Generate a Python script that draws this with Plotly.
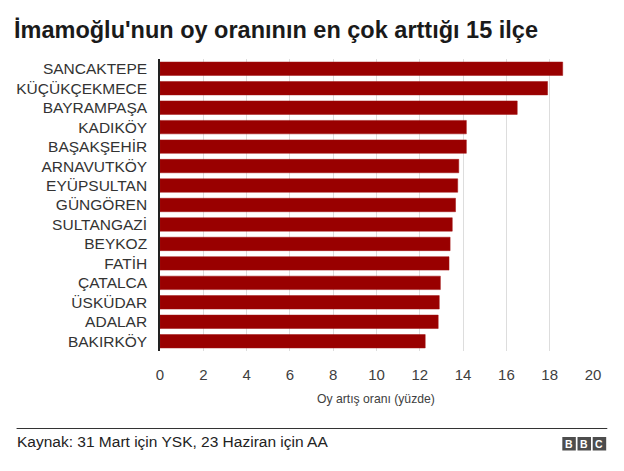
import plotly.graph_objects as go

districts = ["SANCAKTEPE", "KÜÇÜKÇEKMECE", "BAYRAMPAŞA", "KADIKÖY", "BAŞAKŞEHİR",
             "ARNAVUTKÖY", "EYÜPSULTAN", "GÜNGÖREN", "SULTANGAZİ", "BEYKOZ",
             "FATİH", "ÇATALCA", "ÜSKÜDAR", "ADALAR", "BAKIRKÖY"]
increase = [18.6, 17.9, 16.5, 14.15, 14.15, 13.8, 13.75, 13.65, 13.5, 13.4,
            13.35, 12.95, 12.9, 12.85, 12.25]
tick_vals = [0, 2, 4, 6, 8, 10, 12, 14, 16, 18, 20]

W, H = 624, 471
L, R, T, B = 159.5, 592.7, 59, 351
pw, ph = R - L, B - T

def px(x):
    return (x - L) / pw

def py(y):
    return (B - y) / ph

fig = go.Figure(go.Bar(
    x=increase, y=districts, orientation="h",
    marker=dict(color="#990000", line=dict(color="#a01010", width=0.5)),
    hoverinfo="x+y",
))

fig.update_layout(
    width=W, height=H,
    margin=dict(l=L, r=W - R, t=T, b=H - B, pad=0),
    paper_bgcolor="white", plot_bgcolor="white",
    bargap=0.31,
    showlegend=False,
    font=dict(family="Liberation Sans, Arial, sans-serif", color="#333333"),
    title=dict(
        text="<b>İmamoğlu'nun oy oranının en çok arttığı 15 ilçe</b>",
        x=14 / W, xanchor="left", xref="container",
        y=1 - 30 / H, yanchor="middle", yref="container",
        font=dict(size=23.5, color="#1a1a1a"),
    ),
    xaxis=dict(
        range=[0, 20], tickvals=tick_vals, ticktext=[str(v) for v in tick_vals],
        showgrid=True, gridcolor="#dddddd", gridwidth=1,
        zeroline=False, showline=False,
        ticks="outside", ticklen=10, tickcolor="rgba(0,0,0,0)",
        tickfont=dict(size=15, color="#404040"),
        fixedrange=True,
    ),
    yaxis=dict(
        categoryorder="array", categoryarray=districts, autorange="reversed",
        showgrid=False, zeroline=False,
        showline=True, linecolor="#222222", linewidth=1.5,
        ticks="outside", ticklen=8, tickcolor="rgba(0,0,0,0)",
        tickfont=dict(size=15.5, color="#333333"),
        fixedrange=True,
    ),
    annotations=[
        dict(text="Oy artış oranı (yüzde)", xref="paper", yref="paper",
             x=px(375.5), y=py(399), xanchor="center", yanchor="middle",
             showarrow=False, font=dict(size=12.2, color="#404040")),
        dict(text="Kaynak: 31 Mart için YSK, 23 Haziran için AA", xref="paper", yref="paper",
             x=px(14), y=py(441.5), xanchor="left", yanchor="middle",
             showarrow=False, font=dict(size=15.5, color="#222222")),
    ],
    shapes=[
        dict(type="line", xref="paper", yref="paper",
             x0=px(16), x1=px(607), y0=py(428.5), y1=py(428.5),
             line=dict(color="#333333", width=1)),
    ],
)

# BBC logo blocks
letters = ["B", "B", "C"]
for i, ch in enumerate(letters):
    x0 = 562 + i * 15.2
    fig.add_shape(type="rect", xref="paper", yref="paper",
                  x0=px(x0), x1=px(x0 + 13.5), y0=py(450.5), y1=py(437),
                  fillcolor="#4d4d4d", line=dict(width=0))
    fig.add_annotation(text=f"<b>{ch}</b>", xref="paper", yref="paper",
                       x=px(x0 + 6.75), y=py(443.8), xanchor="center", yanchor="middle",
                       showarrow=False, font=dict(size=10.5, color="white"))

fig.write_html("out.html", config={"displayModeBar": False},
               post_script="document.body.style.margin='0';document.body.style.padding='0';")
